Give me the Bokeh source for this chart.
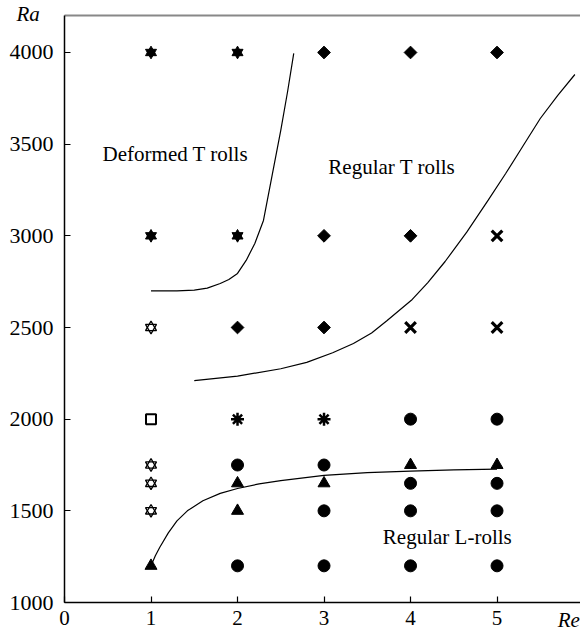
import numpy as np
from bokeh.plotting import figure
from bokeh.models import Label, Range1d, FixedTicker, LinearAxis
from bokeh.embed import file_html
from bokeh.resources import INLINE

# ---- data ----
x_ticks = [0, 1, 2, 3, 4, 5]
y_ticks = [1000, 1500, 2000, 2500, 3000, 3500, 4000]

hex_filled_x = [1, 2, 1, 2]
hex_filled_y = [4000, 4000, 3000, 3000]

hex_open_x = [1, 1, 1, 1]
hex_open_y = [2500, 1750, 1650, 1500]

diamond_x = [3, 4, 5, 3, 4, 2, 3]
diamond_y = [4000, 4000, 4000, 3000, 3000, 2500, 2500]

cross_x = [5, 4, 5]
cross_y = [3000, 2500, 2500]

square_x = [1]
square_y = [2000]

aster_x = [2, 3]
aster_y = [2000, 2000]

circle_x = [4, 5, 2, 3, 4, 5, 3, 4, 5, 2, 3, 4, 5]
circle_y = [2000, 2000, 1750, 1750, 1650, 1650, 1500, 1500, 1500, 1200, 1200, 1200, 1200]

tri_x = [4, 5, 2, 3, 2, 1]
tri_y = [1750, 1750, 1650, 1650, 1500, 1200]

# boundary curves
deformed_x = [1.0, 1.3, 1.5, 1.65, 1.8, 1.9, 2.0, 2.1, 2.2, 2.3, 2.4, 2.5, 2.58, 2.65]
deformed_y = [2700, 2700, 2704, 2715, 2740, 2762, 2795, 2866, 2958, 3084, 3330, 3575, 3790, 3995]

regT_x = [1.5, 2.0, 2.5, 2.8, 3.1, 3.34, 3.55, 3.73, 4.02, 4.2, 4.4, 4.65, 4.9, 5.1, 5.3, 5.5, 5.7, 5.9]
regT_y = [2210, 2235, 2275, 2310, 2362, 2413, 2470, 2538, 2653, 2745, 2860, 3020, 3196, 3340, 3490, 3640, 3765, 3880]

regL_x = [1.0, 1.05, 1.1, 1.2, 1.3, 1.42, 1.6, 1.8, 2.0, 2.25, 2.5, 3.0, 3.5, 4.0, 4.5, 5.0]
regL_y = [1200, 1255, 1300, 1380, 1445, 1500, 1555, 1595, 1622, 1647, 1665, 1693, 1708, 1717, 1723, 1728]

# top frame line extent
frame_top = 4202

FONT = "Liberation Serif"

X0, X1 = -0.740, 5.965
Y0, Y1 = 836.4, 4283.6

p = figure(width=580, height=632, output_backend="svg", toolbar_location=None,
           x_range=Range1d(X0, X1), y_range=Range1d(Y0, Y1),
           min_border=0, x_axis_location=None, y_axis_location=None)
p.outline_line_color = None
p.grid.visible = False
p.background_fill_color = "white"

xax = LinearAxis(fixed_location=1000, bounds=(0, X1), ticker=FixedTicker(ticks=x_ticks))
yax = LinearAxis(fixed_location=0, bounds=(1000, frame_top), ticker=FixedTicker(ticks=y_ticks))
for ax in (xax, yax):
    ax.axis_line_color = "black"
    ax.axis_line_width = 1.5
    ax.major_tick_in = 6
    ax.major_tick_out = 0
    ax.minor_tick_line_color = None
    ax.major_tick_line_color = "black"
    ax.major_tick_line_width = 1.2
    ax.major_label_text_font = FONT
    ax.major_label_text_color = "black"
xax.major_label_text_font_size = "21px"
yax.major_label_text_font_size = "22px"
xax.major_label_standoff = 8
yax.major_label_standoff = 11
p.add_layout(xax, "below")
p.add_layout(yax, "left")

topax = LinearAxis(fixed_location=frame_top, bounds=(0, X1), ticker=FixedTicker(ticks=[]))
topax.axis_line_color = "#888888"
topax.axis_line_width = 2
topax.major_tick_line_color = None
topax.minor_tick_line_color = None
topax.major_label_text_color = None
p.add_layout(topax, "above")

# curves
for cx, cy in ((deformed_x, deformed_y), (regT_x, regT_y), (regL_x, regL_y)):
    p.line(cx, cy, line_color="black", line_width=1.2)

# markers
p.scatter(hex_filled_x, hex_filled_y, marker="triangle", size=11, color="black")
p.scatter(hex_filled_x, hex_filled_y, marker="inverted_triangle", size=11, color="black")
p.scatter(hex_open_x, hex_open_y, marker="triangle", size=11, fill_color=None, line_color="black", line_width=1.3)
p.scatter(hex_open_x, hex_open_y, marker="inverted_triangle", size=11, fill_color=None, line_color="black", line_width=1.3)
p.scatter(diamond_x, diamond_y, marker="square", angle=np.pi / 4, size=9, color="black")
p.scatter(cross_x, cross_y, marker="x", size=15, line_color="black", line_width=3.2)
p.scatter(square_x, square_y, marker="square", size=10, fill_color="white", line_color="black", line_width=2)
p.scatter(aster_x, aster_y, marker="asterisk", size=13, line_color="black", line_width=2.5)
p.scatter(circle_x, circle_y, marker="circle", size=12, color="black")
p.scatter(tri_x, tri_y, marker="triangle", size=12, color="black")

# texts
def lab(x, y, t, italic=False, align="left"):
    p.add_layout(Label(x=x, y=y, text=t, text_font=FONT, text_font_size="21px",
                       text_font_style="italic" if italic else "normal",
                       text_align=align, text_baseline="middle", text_color="black"))

lab(0.44, 3444, "Deformed T rolls")
lab(3.05, 3373, "Regular T rolls")
lab(3.68, 1360, "Regular L-rolls")
lab(-0.42, 4212, "Ra", italic=True, align="center")
lab(5.83, 902, "Re", italic=True, align="center")

open("out.html", "w").write(file_html(p, INLINE))
